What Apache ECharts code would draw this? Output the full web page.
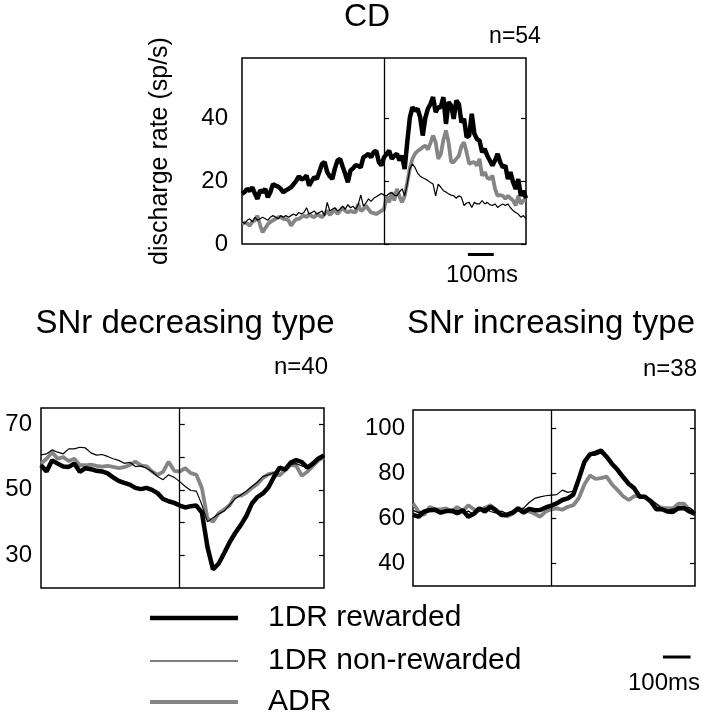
<!DOCTYPE html>
<html><head><meta charset="utf-8">
<script src="https://cdn.jsdelivr.net/npm/echarts@6/dist/echarts.min.js"></script>
<style>html,body{margin:0;padding:0;background:#fff}#c{width:702px;height:720px}</style>
</head><body><div id="c"></div>
<script>
const seriesNames = ['1DR rewarded', '1DR non-rewarded', 'ADR'];

// CD panel: time (ms) relative to event, 10 ms bins
const cdTime = [-550,-540,-530,-520,-510,-500,-490,-480,-470,-460,-450,-440,-430,-420,-410,-400,-390,-380,-370,-360,-350,-340,-330,-320,-310,-300,-290,-280,-270,-260,-250,-240,-230,-220,-210,-200,-190,-180,-170,-160,-150,-140,-130,-120,-110,-100,-90,-80,-70,-60,-50,-40,-30,-20,-10,0,10,20,30,40,50,60,70,80,90,100,110,120,130,140,150,160,170,180,190,200,210,220,230,240,250,260,270,280,290,300,310,320,330,340,350,360,370,380,390,400,410,420,430,440,450,460,470,480,490,500,510,520,530,540,550];
const cdRewarded = [15.9,16.5,17.5,16.8,18,16,14.3,17,16.5,17.5, 14.8,16.5,19,18.5,18.2,17.5,16.4,17,17.5,18, 19,20,21.5,20.5,20.8,21.7,18.5,20,21.2,20.6, 23,25.4,26,22.8,21.5,20.6,24,26.5,27,24.5, 22.2,19.6,23.3,24,25,24.8,24.3,27.5,28,28.6, 27.5,29.1,29.6,26,24.9,27.5,28.5,29.6,27,28, 28.6,26.5,28,23.8,32.3,40,43.4,42.3,42.9,40.2, 34.4,40,42.9,44.4,46.6,41.8,43.4,43.4,46.6,38.1, 45,43.9,39.7,45.5,44.4,38.6,39.7,33.9,34.4,41.3, 35,33.3,32.8,29.1,30.2,28,26.5,24.9,26.5,28.6, 26,24.3,24.9,20.6,22.8,19.6,17.5,20.6,15.3,16.9, 14.5];
const cdNonRewarded = [7,6.5,7.5,8,7,8.5,7.5,8,8.5,8, 7.5,8.5,9,8.5,8,9,8.5,9,8.5,9, 9.5,9,10,9.5,10,11.5,9.5,10,10.5,9.5, 10,10.5,9,13.2,10.5,11,11.5,10.5,11,12, 11,12.5,11.5,12,11,12.5,15.6,12,13,14.3, 13.5,14.5,15,15.5,16,15.5,15.3,16,16.3,15.5, 15.3,16.5,17.5,15.3,19,23.8,25.4,24.3,22.5,21.5, 21,20.6,20.1,19.5,19,15.3,19,18,16.9,16.5, 15.9,15.5,15.3,14.5,15.3,14.8,12.2,13,13.2,11.6, 13.2,12.7,12.7,13.8,12.7,13.2,12.5,12.2,12.7,11.6, 12.2,12.7,12.2,12.7,11.5,10.6,10,9.5,8.5,9, 8];
const cdADR = [6.3,6.8,6.5,5.8,7,7.5,9,6,3.7,5, 6.3,7,7.5,8,8.5,8.5,8,7.9,7.5,5.8, 7,7.9,8,8.5,9,8.5,9.5,8.8,8.5,9.5, 9,8.5,9.5,10.6,9.2,10,11.1,9.5,10.5,11.6, 10.5,10,10.5,10.2,10,12.7,10.5,11,12.2,11, 10,9.8,9.5,10,10.5,11.1,15,13.2,16.4,13.8, 17.5,15,13.2,15.3,19.5,24,27,28.6,29.5,30, 30.7,31.2,30,32,34.4,32.3,27,28.5,33,36, 32.3,26,26,27,28,31,32.3,29,25.4,25.8, 26,24.9,27,21.7,22.8,21,20.6,21.7,17.5,15.3, 15.5,15.3,14.3,15.3,14.5,13.8,12.2,15.3,12.7,13.8, 14];

// SNr panels: time (ms), 20 ms bins
const snrTime = [-500,-480,-460,-440,-420,-400,-380,-360,-340,-320,-300,-280,-260,-240,-220,-200,-180,-160,-140,-120,-100,-80,-60,-40,-20,0,20,40,60,80,100,120,140,160,180,200,220,240,260,280,300,320,340,360,380,400,420,440,460,480,500,520];
const decRewarded = [57.5,55.6,59,58,57.1,57,58,55.5,56.6,56.3, 55.8,55.6,55,53.8,52.7,52.1,51.6,50.6,50.2,50.6, 50,49,47.2,46.5,46,45.2,44.6,45,45.2,43, 32.5,25.7,27.4,30.6,34,36.8,39.2,42,45.8,47.8, 48.9,50.8,54,56.8,56.2,58.3,59.1,58.5,56.8,58, 59.6,60.5];
const decNonRewarded = [60.7,61,62.2,61.5,61,62.5,62.5,63,62.8,61.3, 60.6,60.8,60.2,59.5,59,58.1,58.4,57.1,57.3,56.6, 55.6,54.1,53.1,54.6,53.8,52.5,51,49.8,49.6,45.4, 40.2,41.5,42.6,43.5,45.4,47.3,48.4,49.6,51,52.4, 54.1,54.6,55.3,56,56.8,57.8,58,57.3,56.8,58, 59.5,60];
const decADR = [58,59.5,61.5,59.5,60,58.8,59.5,57.5,57.5,57.7, 57.3,57.1,57.3,57,56.6,56.9,57.6,58.6,57.5,57.2, 55.6,54.6,55.5,58.6,55.8,55.6,56.6,55.1,54.6,50.5, 41.2,40.3,42.8,44,45.3,48.1,48.2,49.1,50.6,51.8, 53.6,54.8,55.1,54.4,56,57.6,57.3,54.3,55.5,57.3, 59,60];
const incRewarded = [61.5,60.7,62.9,63.6,63.8,62.5,63.2,63.4,62.2,63.6, 60.7,62,64.4,63,65.1,63.5,61.5,61.6,62.5,64.4, 62.5,64.2,63.6,63.7,64.8,65.6,66.6,68.1,68.8,70.5, 77.5,85,88.3,89,90,87.3,84.1,81.5,78.3,75.3, 73.3,69.6,69.5,67.5,64,64,63,62.8,64.5,64.6, 63,62];
const incNonRewarded = [63.5,62.5,63.5,64.3,63,62.2,63.8,62.8,63.5,62.5, 63.2,61.6,63.2,64.6,63,62.4,63.2,62,61.8,63.5, 64.5,67,68.8,69.5,70,70.3,70.5,72.5,71.5,72, 78.5,86,87.8,88,89,86.6,83.8,80.5,77.5,74.5, 73,70.3,69,68,66.5,64.3,63.4,64.2,63.6,64.5, 64.8,62.8];
const incADR = [66.6,63,61.5,65,64,64,64.4,63,65,63.2, 65.8,64,63.8,64.6,65.8,63.8,61.5,60.8,62,64, 63.8,63,62,60.7,63,64,64.4,63.8,65.1,65.8, 69,75,79,77.5,77.8,78.5,75,72.5,69.8,68.1, 69.8,70,69,68,65.8,64.6,64.5,64.4,66.5,66.5, 63.8,62.5];

// tick labels
const cdTicks = [0, 20, 40];
const decTicks = [30, 40, 50, 60, 70];
const decLabels = [30, 50, 70];
const incTicks = [40, 60, 80, 100];

const FONT = '"Liberation Sans", Arial, Helvetica, sans-serif';
const styles = [
  {color: '#000000', width: 4.5},
  {color: '#000000', width: 1.2},
  {color: '#858585', width: 3.8}
];
function pair(t, v) { return t.map((x, i) => [x, v[i]]); }

function panelSeries(gi, time, arrays) {
  const order = [2, 1, 0];
  return order.map((k, j) => {
    const s = {
      type: 'line', name: seriesNames[k], xAxisIndex: gi, yAxisIndex: gi * 2,
      data: pair(time, arrays[k]), symbol: 'none', showSymbol: false,
      lineStyle: {color: styles[k].color, width: styles[k].width},
      itemStyle: {color: styles[k].color},
      z: 3 + j, animation: false, silent: true
    };
    if (j === 0) {
      s.markLine = {silent: true, symbol: ['none', 'none'], label: {show: false},
        lineStyle: {color: '#000', width: 1.3, type: 'solid'}, data: [{xAxis: 0}], animation: false};
    }
    return s;
  });
}
function scaleBar(gi, x0, x1, y) {
  return {type: 'line', name: 'scale' + gi, xAxisIndex: gi, yAxisIndex: gi * 2, clip: false,
    data: [[x0, y], [x1, y]], symbol: 'none', lineStyle: {color: '#000', width: 3},
    animation: false, silent: true, z: 10};
}
function yAx(gi, min, max, ticks, labels, margin, right, extra) {
  return Object.assign({
    type: 'value', gridIndex: gi, min: min, max: max, position: right ? 'right' : 'left',
    axisLine: {show: false}, splitLine: {show: false},
    axisTick: {show: true, inside: true, length: 5, lineStyle: {color: '#000', width: 1.2}, customValues: ticks},
    axisLabel: {show: !right, customValues: labels, margin: margin, color: '#000', fontSize: 24, fontFamily: FONT}
  }, extra || {});
}
function xAx(gi, min, max) {
  return {type: 'value', gridIndex: gi, min: min, max: max,
    axisLine: {show: false}, axisTick: {show: false}, axisLabel: {show: false}, splitLine: {show: false}};
}
function txt(x, y, text, size) {
  return {type: 'text', x: x, y: y, silent: true,
    style: {text: text, font: size + 'px ' + FONT, fill: '#000', textAlign: 'center', textVerticalAlign: 'middle'}};
}
function leg(k, top) {
  return {data: [seriesNames[k]], left: 145, top: top, icon: 'rect',
    itemWidth: 88, itemHeight: styles[k].width, selectedMode: false,
    itemStyle: {color: styles[k].color},
    textStyle: {fontSize: 30, fontFamily: FONT, color: '#000', padding: [0, 0, 0, 25]}};
}

const gridStyle = {show: true, borderColor: '#000', borderWidth: 1.5, backgroundColor: 'transparent'};
const option = {
  animation: false,
  backgroundColor: '#fff',
  grid: [
    Object.assign({left: 242, top: 58, width: 284, height: 186}, gridStyle),
    Object.assign({left: 41, top: 408, width: 283, height: 180}, gridStyle),
    Object.assign({left: 413, top: 410, width: 282, height: 176}, gridStyle)
  ],
  xAxis: [xAx(0, -550, 550), xAx(1, -500, 520), xAx(2, -500, 520)],
  yAxis: [
    yAx(0, 0, 59, cdTicks, cdTicks, 14, false, {name: 'discharge rate (sp/s)', nameLocation: 'middle', nameGap: 69, nameRotate: 90,
      nameTextStyle: {fontSize: 25, fontFamily: FONT, color: '#000'}}),
    yAx(0, 0, 59, cdTicks, [], 0, true),
    yAx(1, 20, 75, decTicks, decLabels, 9, false),
    yAx(1, 20, 75, decTicks, [], 0, true),
    yAx(2, 30, 108, incTicks, incTicks, 8, false),
    yAx(2, 30, 108, incTicks, [], 0, true)
  ],
  legend: [leg(0, 598), leg(1, 641), leg(2, 682)],
  series: [].concat(
    panelSeries(0, cdTime, [cdRewarded, cdNonRewarded, cdADR]),
    panelSeries(1, snrTime, [decRewarded, decNonRewarded, decADR]),
    panelSeries(2, snrTime, [incRewarded, incNonRewarded, incADR]),
    [scaleBar(0, 325, 425, -3.3), scaleBar(2, 404, 504, -1.5)]
  ),
  graphic: [
    txt(367, 17, 'CD', 32),
    txt(515, 37, 'n=54', 23),
    txt(185, 324, 'SNr decreasing type', 33),
    txt(551, 324, 'SNr increasing type', 33),
    txt(301, 367, 'n=40', 24),
    txt(670, 369, 'n=38', 24),
    txt(482, 275, '100ms', 24),
    txt(664, 683, '100ms', 24)
  ]
};
const chart = echarts.init(document.getElementById('c'), null, {renderer: 'canvas'});
chart.setOption(option);
</script></body></html>
